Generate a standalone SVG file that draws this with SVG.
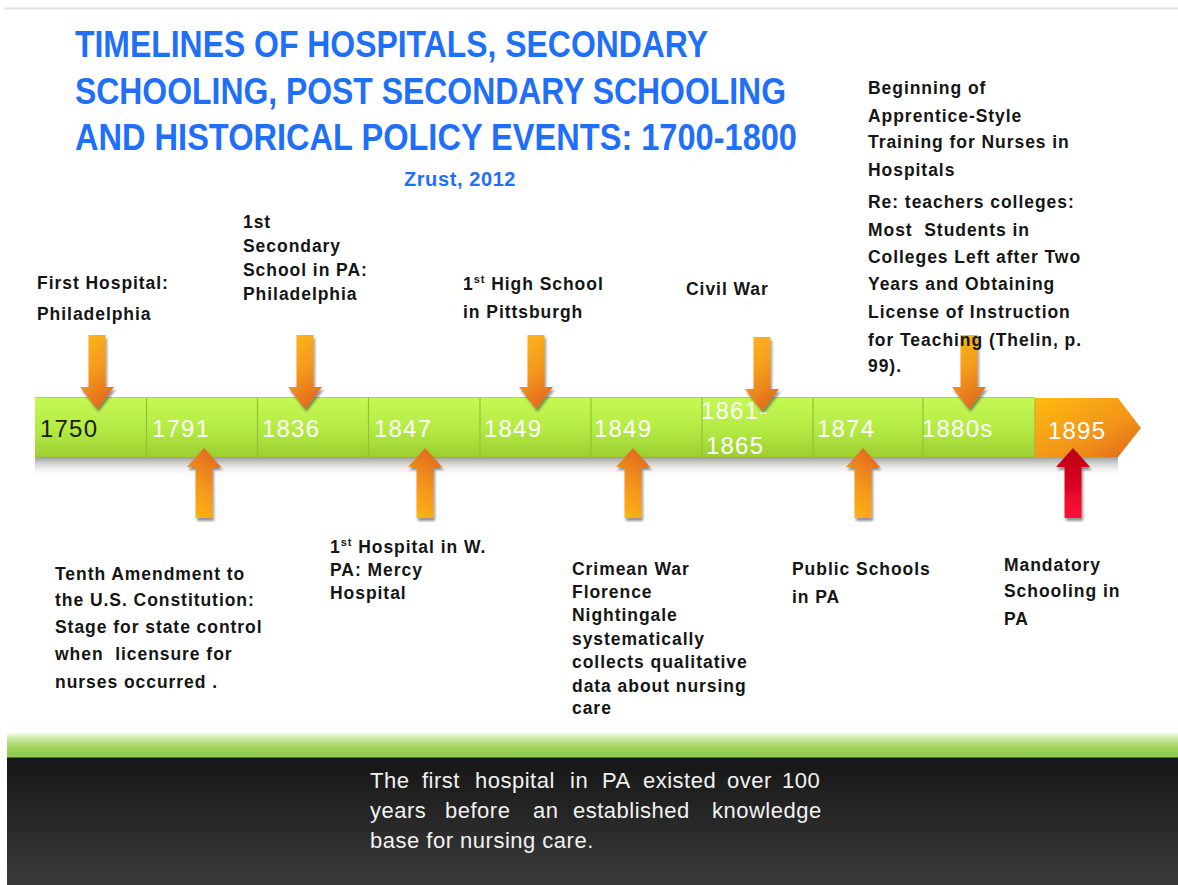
<svg xmlns="http://www.w3.org/2000/svg" width="1178" height="885" viewBox="0 0 1178 885">
  <defs>
    <style>
      .title { font-family: 'Liberation Sans', Arial, sans-serif; font-weight: bold; font-size: 37px; fill: #1f6ff8; }
      .sub { font-family: 'Liberation Sans', Arial, sans-serif; font-weight: bold; font-size: 20px; fill: #1f6ff8; letter-spacing: 0.6px; }
      .lbl { font-family: 'Liberation Sans', Arial, sans-serif; font-weight: bold; font-size: 17.5px; fill: #151515; letter-spacing: 0.95px; }
      .yr { font-family: 'Liberation Sans', Arial, sans-serif; font-size: 24px; fill: #ffffff; letter-spacing: 1.2px; }
      .note { font-family: 'Liberation Sans', Arial, sans-serif; font-size: 22px; fill: #f2f2f2; letter-spacing: 0.5px; }
      .sup { font-size: 11px; }
      .seg { fill: url(#barGreen); }
      .div { stroke: #8fc43a; stroke-width: 1.2; }
      .down { fill: url(#downFill); filter: url(#shadow); }
      .up { fill: url(#upFill); filter: url(#shadow); }
    </style>
    <linearGradient id="barGreen" x1="0" y1="0" x2="0" y2="1">
      <stop offset="0" stop-color="#c4fa52"/>
      <stop offset="0.55" stop-color="#b4ea44"/>
      <stop offset="1" stop-color="#9cce30"/>
    </linearGradient>
    <linearGradient id="orangeSeg" x1="0" y1="0" x2="1" y2="1">
      <stop offset="0" stop-color="#ffbb10"/>
      <stop offset="0.6" stop-color="#f29418"/>
      <stop offset="1" stop-color="#e0661c"/>
    </linearGradient>
    <linearGradient id="barShadow" x1="0" y1="0" x2="0" y2="1">
      <stop offset="0" stop-color="#7a7a7a" stop-opacity="0.75"/>
      <stop offset="0.4" stop-color="#b0b0b0" stop-opacity="0.45"/>
      <stop offset="1" stop-color="#ffffff" stop-opacity="0"/>
    </linearGradient>
    <linearGradient id="downFill" x1="0" y1="0" x2="0.35" y2="1">
      <stop offset="0" stop-color="#fcb819"/>
      <stop offset="0.55" stop-color="#f49a1c"/>
      <stop offset="1" stop-color="#e4701e"/>
    </linearGradient>
    <linearGradient id="upFill" x1="0.35" y1="0" x2="0" y2="1">
      <stop offset="0" stop-color="#e4701e"/>
      <stop offset="0.45" stop-color="#f4961c"/>
      <stop offset="1" stop-color="#fdb814"/>
    </linearGradient>
    <linearGradient id="redFill" x1="0" y1="0" x2="0" y2="1">
      <stop offset="0" stop-color="#b8000e"/>
      <stop offset="1" stop-color="#ff0a38"/>
    </linearGradient>
    <linearGradient id="band" x1="0" y1="0" x2="0" y2="1">
      <stop offset="0" stop-color="#f4fbea"/>
      <stop offset="0.2" stop-color="#cfeaa8"/>
      <stop offset="0.6" stop-color="#9ed35a"/>
      <stop offset="1" stop-color="#8cc74a"/>
    </linearGradient>
    <linearGradient id="dark" x1="0" y1="0" x2="0" y2="1">
      <stop offset="0" stop-color="#161616"/>
      <stop offset="1" stop-color="#3a3a3a"/>
    </linearGradient>
    <filter id="shadow" x="-50%" y="-20%" width="200%" height="140%">
      <feDropShadow dx="1.5" dy="3" stdDeviation="1.2" flood-color="#404040" flood-opacity="0.55"/>
    </filter>
    <!-- arrow shapes, tip at the origin -->
    <path id="downArrow" d="M-8.5,-74 H8.5 V-22 H17 L0,0 L-17,-22 H-8.5 Z"/>
    <path id="upArrow" d="M0,0 L17,19 H8.5 V70 H-8.5 V19 H-17 Z"/>
  </defs>

  <rect width="1178" height="885" fill="#ffffff"/>
  <line x1="4" y1="8.5" x2="1178" y2="8.5" stroke="#e2e2e2" stroke-width="2"/>

  <!-- heading: squeezed horizontally to a narrow, Calibri-like set -->
  <g id="heading">
    <text class="title" transform="translate(75,57) scale(0.84,1)" textLength="753.6" lengthAdjust="spacingAndGlyphs">TIMELINES OF HOSPITALS, SECONDARY</text>
    <text class="title" transform="translate(75,104) scale(0.84,1)" textLength="846.4" lengthAdjust="spacingAndGlyphs">SCHOOLING, POST SECONDARY SCHOOLING</text>
    <text class="title" transform="translate(75,150) scale(0.84,1)" textLength="859.5" lengthAdjust="spacingAndGlyphs">AND HISTORICAL POLICY EVENTS: 1700-1800</text>
    <text class="sub" x="460" y="186" text-anchor="middle">Zrust, 2012</text>
  </g>

  <!-- timeline bar -->
  <g id="timeline">
    <rect x="35" y="457" width="1083" height="20" fill="url(#barShadow)"/>
    <rect class="seg" x="35" y="397" width="1000" height="60"/>
    <line x1="35" y1="397.5" x2="1035" y2="397.5" stroke="#a8d060" stroke-width="1"/>
    <line class="div" x1="146.5" y1="398" x2="146.5" y2="457"/>
    <line class="div" x1="257.5" y1="398" x2="257.5" y2="457"/>
    <line class="div" x1="368.5" y1="398" x2="368.5" y2="457"/>
    <line class="div" x1="480" y1="398" x2="480" y2="457"/>
    <line class="div" x1="591" y1="398" x2="591" y2="457"/>
    <line class="div" x1="702" y1="398" x2="702" y2="457"/>
    <line class="div" x1="813" y1="398" x2="813" y2="457"/>
    <line class="div" x1="923" y1="398" x2="923" y2="457"/>
    <path d="M1035,398 H1118 L1141,428 L1118,457 H1035 Z" fill="url(#orangeSeg)"/>
    <line x1="1035" y1="398" x2="1035" y2="457" stroke="#c9a040" stroke-width="1"/>
  </g>

  <g id="y1750"><text class="yr" x="40" y="437" style="fill:#1c1c04">1750</text></g>
  <g id="y1791"><text class="yr" x="152" y="437">1791</text></g>
  <g id="y1836"><text class="yr" x="262" y="437">1836</text></g>
  <g id="y1847"><text class="yr" x="374" y="437">1847</text></g>
  <g id="y1849a"><text class="yr" x="484" y="437">1849</text></g>
  <g id="y1849b"><text class="yr" x="594" y="437">1849</text></g>
  <g id="y1861"><text class="yr" x="701" y="419">1861-</text><text class="yr" x="706" y="454">1865</text></g>
  <g id="y1874"><text class="yr" x="817" y="437">1874</text></g>
  <g id="y1880s"><text class="yr" x="922" y="437">1880s</text></g>
  <g id="y1895"><text class="yr" x="1048" y="439">1895</text></g>

  <!-- connectors: event arrows pointing at the bar -->
  <g id="connectors">
    <use href="#downArrow" class="down" x="97" y="409"/>
    <use href="#downArrow" class="down" x="305" y="409"/>
    <use href="#downArrow" class="down" x="536" y="409"/>
    <use href="#downArrow" class="down" x="762" y="411"/>
    <use href="#downArrow" class="down" x="969" y="409"/>
    <use href="#upArrow" class="up" x="204" y="448"/>
    <use href="#upArrow" class="up" x="425" y="448"/>
    <use href="#upArrow" class="up" x="633" y="448"/>
    <use href="#upArrow" class="up" x="863" y="448"/>
    <use href="#upArrow" x="1073" y="448" fill="url(#redFill)" filter="url(#shadow)"/>
  </g>

  <!-- event labels above the bar -->
  <g id="ev-first-hospital">
    <text class="lbl" x="37" y="289">First Hospital:</text>
    <text class="lbl" x="37" y="320">Philadelphia</text>
  </g>
  <g id="ev-secondary-school">
    <text class="lbl" x="243" y="228">1st</text>
    <text class="lbl" x="243" y="252">Secondary</text>
    <text class="lbl" x="243" y="276">School in PA:</text>
    <text class="lbl" x="243" y="300">Philadelphia</text>
  </g>
  <g id="ev-high-school">
    <text class="lbl" x="463" y="290">1<tspan class="sup" dy="-7">st</tspan><tspan dy="7"> High School</tspan></text>
    <text class="lbl" x="463" y="318">in Pittsburgh</text>
  </g>
  <g id="ev-civil-war">
    <text class="lbl" x="686" y="295">Civil War</text>
  </g>
  <g id="ev-apprentice">
    <text class="lbl" x="868" y="94">Beginning of</text>
    <text class="lbl" x="868" y="122">Apprentice-Style</text>
    <text class="lbl" x="868" y="148">Training for Nurses in</text>
    <text class="lbl" x="868" y="176">Hospitals</text>
    <text class="lbl" x="868" y="208">Re: teachers colleges:</text>
    <text class="lbl" x="868" y="236" xml:space="preserve">Most  Students in</text>
    <text class="lbl" x="868" y="263">Colleges Left after Two</text>
    <text class="lbl" x="868" y="290">Years and Obtaining</text>
    <text class="lbl" x="868" y="318">License of Instruction</text>
    <text class="lbl" x="868" y="346">for Teaching (Thelin, p.</text>
    <text class="lbl" x="868" y="372">99).</text>
  </g>

  <!-- event labels below the bar -->
  <g id="ev-tenth-amendment">
    <text class="lbl" x="55" y="580">Tenth Amendment to</text>
    <text class="lbl" x="55" y="606">the U.S. Constitution:</text>
    <text class="lbl" x="55" y="633">Stage for state control</text>
    <text class="lbl" x="55" y="660" xml:space="preserve">when  licensure for</text>
    <text class="lbl" x="55" y="688">nurses occurred .</text>
  </g>
  <g id="ev-mercy-hospital">
    <text class="lbl" x="330" y="553">1<tspan class="sup" dy="-7">st</tspan><tspan dy="7"> Hospital in W.</tspan></text>
    <text class="lbl" x="330" y="576">PA: Mercy</text>
    <text class="lbl" x="330" y="599">Hospital</text>
  </g>
  <g id="ev-crimean-war">
    <text class="lbl" x="572" y="575">Crimean War</text>
    <text class="lbl" x="572" y="598">Florence</text>
    <text class="lbl" x="572" y="621">Nightingale</text>
    <text class="lbl" x="572" y="645">systematically</text>
    <text class="lbl" x="572" y="668">collects qualitative</text>
    <text class="lbl" x="572" y="692">data about nursing</text>
    <text class="lbl" x="572" y="714">care</text>
  </g>
  <g id="ev-public-schools">
    <text class="lbl" x="792" y="575">Public Schools</text>
    <text class="lbl" x="792" y="603">in PA</text>
  </g>
  <g id="ev-mandatory">
    <text class="lbl" x="1004" y="571">Mandatory</text>
    <text class="lbl" x="1004" y="597">Schooling in</text>
    <text class="lbl" x="1004" y="625">PA</text>
  </g>

  <!-- footer note, justified word by word -->
  <g id="footer">
    <rect x="7" y="733" width="1171" height="25" fill="url(#band)"/>
    <line x1="7" y1="757.5" x2="1178" y2="757.5" stroke="#4e7a28" stroke-width="1.2"/>
    <rect x="7" y="758" width="1171" height="127" fill="url(#dark)"/>
    <text class="note" y="788"><tspan x="370">The</tspan><tspan x="422">first</tspan><tspan x="475">hospital</tspan><tspan x="570">in</tspan><tspan x="602">PA</tspan><tspan x="643">existed</tspan><tspan x="727">over</tspan><tspan x="782">100</tspan></text>
    <text class="note" y="818"><tspan x="370">years</tspan><tspan x="445">before</tspan><tspan x="533">an</tspan><tspan x="573">established</tspan><tspan x="712">knowledge</tspan></text>
    <text class="note" x="370" y="848">base for nursing care.</text>
  </g>
</svg>
